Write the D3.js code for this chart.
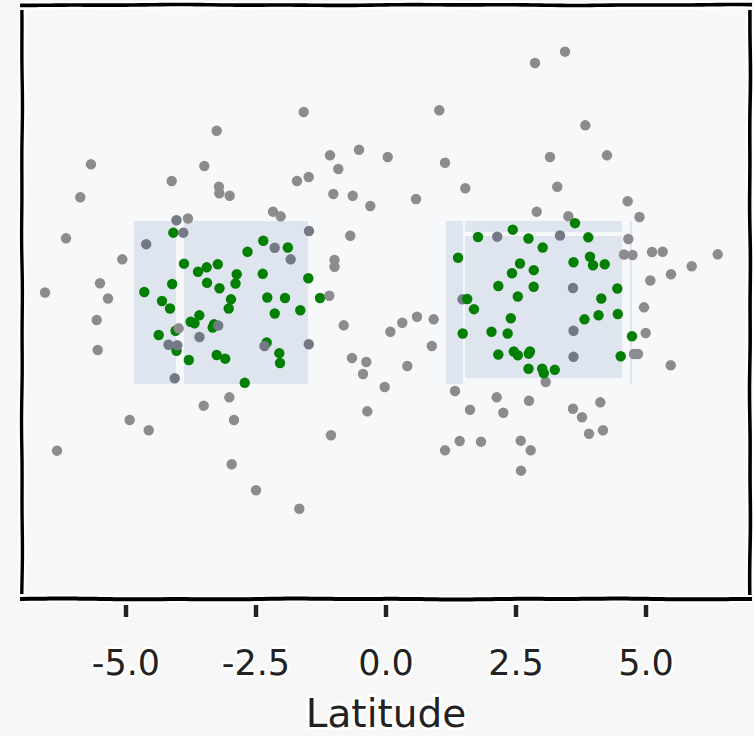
<!DOCTYPE html>
<html><head><meta charset="utf-8">
<script src="https://cdn.jsdelivr.net/npm/d3@7"></script>
<style>
html,body{margin:0;padding:0;background:#f7f7f8;}
svg{display:block;}
</style></head>
<body><div id="chart"></div>
<script>
// ---- data ----
const xTicks = [-5, -2.5, 0, 2.5, 5];
const xTickLabels = ["-5.0", "-2.5", "0.0", "2.5", "5.0"];
const xLabel = "Latitude";

const grayX = [-1.583,-3.256,-5.673,-3.494,-4.121,-3.212,-3.206,-3.006,-5.879,-1.077,-0.519,-0.917,-1.712,-1.487,-1.013,-0.640,-0.302,-2.173,-2.025,-4.029,-3.808,-3.898,-6.154,-4.612,-1.481,-0.687,-2.140,-1.833,-5.071,-0.990,-0.990,-5.5,-6.558,-5.346,-1.090,-5.563,-3.227,-3.987,-3.587,-0.813,-4.183,-4.013,-5.544,-2.337,-1.485,-0.654,-0.379,-0.442,-4.063,-3.013,-3.506,-2.923,-4.929,-4.563,-0.360,-1.058,-6.327,-2.967,-2.5,-1.667,
 3.442,2.865,1.025,3.833,0.033,1.135,3.154,4.250,0.577,1.525,3.294,4.648,4.875,2.898,3.506,2.140,3.346,4.660,4.577,4.740,5.115,5.321,6.379,5.879,5.481,5.083,3.596,1.471,4.962,0.596,0.313,0.083,0.917,0.881,3.606,4.994,3.606,4.769,4.846,5.475,0.410,3.071,-0.025,1.327,2.129,2.750,1.615,2.256,3.596,4.121,3.769,4.173,3.904,1.417,1.827,1.135,2.590,2.783,2.596];
const grayY = [3.625,3.265,2.619,2.587,2.298,2.188,2.062,2.015,1.985,2.792,2.900,2.529,2.298,2.375,2.048,2.015,1.817,1.708,1.619,1.544,1.577,1.304,1.196,1.083,1.337,1.246,1.015,0.792,0.792,0.779,0.650,0.331,0.154,0.038,0.092,-0.375,-0.481,-0.535,-0.702,-0.477,-0.850,-0.862,-0.952,-0.875,-0.842,-1.106,-1.183,-1.413,-1.496,-1.862,-2.023,-2.298,-2.298,-2.496,-2.131,-2.592,-2.888,-3.150,-3.650,-4.004,
 4.785,4.567,3.658,3.369,2.760,2.650,2.760,2.792,1.952,2.158,2.188,1.908,1.606,1.708,1.621,1.227,1.250,1.183,0.885,0.875,0.933,0.938,0.888,0.658,0.504,0.385,0.240,0.023,-0.131,-0.312,-0.427,-0.600,-0.362,-0.875,-0.581,-0.625,-1.083,-1.029,-1.029,-1.246,-1.260,-1.567,-1.663,-1.740,-1.862,-1.927,-2.100,-2.158,-2.081,-1.958,-2.246,-2.496,-2.562,-2.702,-2.715,-2.881,-2.696,-2.881,-3.273];

const greenLeftX = [-4.090,-2.360,-1.888,-2.663,-3.885,-3.615,-3.448,-3.235,-2.871,-2.894,-3.442,-3.202,-2.371,-1.494,-4.112,-4.648,-4.308,-2.981,-2.283,-1.942,-1.269,-4.154,-3.025,-2.140,-1.648,-3.590,-3.756,-3.683,-3.308,-3.333,-4.048,-4.371,-4.029,-2.294,-2.052,-2.038,-3.792,-3.256,-3.092,-2.717];
const greenLeftY = [1.304,1.150,1.019,0.938,0.708,0.552,0.638,0.698,0.504,0.327,0.340,0.235,0.513,0.427,0.317,0.163,-0.010,0.023,0.058,0.048,0.048,-0.154,-0.154,-0.250,-0.187,-0.285,-0.408,-0.438,-0.458,-0.519,-0.583,-0.663,-0.967,-0.808,-1.013,-1.202,-1.144,-1.048,-1.119,-1.583];

const greenRightX = [3.635,2.437,1.769,2.740,3.890,3.013,1.385,2.577,3.923,3.981,4.206,3.606,2.423,2.842,2.160,2.840,4.448,2.535,1.562,4.140,1.692,2.400,3.817,4.087,4.458,1.475,2.029,2.340,4.731,2.160,2.458,2.535,2.744,2.769,4.513,2.740,3.004,3.035,3.246];
const greenRightY = [1.487,1.362,1.221,1.192,1.215,1.019,0.823,0.712,0.842,0.677,0.698,0.735,0.525,0.583,0.279,0.265,0.231,0.077,0.029,0.038,-0.167,-0.342,-0.362,-0.283,-0.260,-0.635,-0.600,-0.635,-0.688,-1.038,-0.981,-1.052,-1.023,-0.981,-1.073,-1.312,-1.313,-1.400,-1.333];

// shaded selection boxes (data units)
const boxX0 = [-4.846,-3.885, 1.154, 1.519, 1.519, 4.692];
const boxX1 = [-4.038,-1.500, 1.481, 4.538, 4.538, 4.731];
const boxY0 = [-1.606,-1.606,-1.606, 1.317,-1.490,-1.606];
const boxY1 = [ 1.529, 1.529, 1.529, 1.529, 1.240, 1.529];

// ---- layout ----
const W = 754, H = 736;
const L = 22, R = 750, T = 5, B = 598;
const svg = d3.select("#chart").append("svg").attr("width", W).attr("height", H);

const x = d3.scaleLinear().domain([-7, 7]).range([L, R]);
const y = d3.scaleLinear().domain([-5.625, 5.625]).range([593, 8]);

const font = "'DejaVu Sans', sans-serif";

// panel background
svg.append("rect").attr("x", L).attr("y", T).attr("width", R - L).attr("height", B - T)
  .attr("fill", "#f7f8fa");

// boxes
const boxes = boxX0.map((d, i) => ({x0: d, x1: boxX1[i], y0: boxY0[i], y1: boxY1[i]}));
svg.append("g").selectAll("rect").data(boxes).join("rect")
  .attr("x", d => x(d.x0)).attr("width", d => x(d.x1) - x(d.x0))
  .attr("y", d => y(d.y1)).attr("height", d => y(d.y0) - y(d.y1))
  .attr("fill", "#dfe5ee");

const mainBoxes = boxes.filter(b => b.x1 - b.x0 > 0.1);
const tol = 0.025;
function inBox(px, py) {
  return mainBoxes.some(b => px >= b.x0 - tol && px <= b.x1 + tol && py >= b.y0 - tol && py <= b.y1 + tol);
}

const r = 5.2;
function drawPts(xs, ys, colorFn) {
  svg.append("g").selectAll("circle").data(xs.map((d, i) => [d, ys[i]])).join("circle")
    .attr("cx", d => x(d[0])).attr("cy", d => y(d[1])).attr("r", r)
    .attr("fill", colorFn);
}
drawPts(greenLeftX, greenLeftY, () => "#038003");
drawPts(grayX, grayY, d => inBox(d[0], d[1]) ? "#737a85" : "#8c8c8e");
drawPts(greenRightX, greenRightY, () => "#038003");

// xkcd-like frame lines
function wobble(x0, y0, x1, y1, seed) {
  const n = Math.max(2, Math.round(Math.hypot(x1 - x0, y1 - y0) / 10));
  const dx = x1 - x0, dy = y1 - y0, len = Math.hypot(dx, dy);
  const nx = -dy / len, ny = dx / len;
  const pts = [];
  for (let i = 0; i <= n; i++) {
    const t = i / n;
    const o = 0.3 * Math.sin(t * 17 + seed) + 0.2 * Math.sin(t * 41 + seed * 2.1);
    pts.push([x0 + dx * t + nx * o, y0 + dy * t + ny * o]);
  }
  return d3.line().curve(d3.curveBasis)(pts);
}
const frame = [
  [20, 5, 752, 5, 1, 3.6], [22, 10, 22, 594, 2, 3.4], [750, 10, 750, 595, 3, 3.6], [20, 599, 752, 599, 4, 4]
];
const fg = svg.append("g");
frame.forEach(f => {
  fg.append("path").attr("d", wobble(f[0], f[1], f[2], f[3], f[4])).attr("fill", "none")
    .attr("stroke", "#ffffff").attr("stroke-width", 8).attr("stroke-linecap", "butt");
});
frame.forEach(f => {
  fg.append("path").attr("d", wobble(f[0], f[1], f[2], f[3], f[4])).attr("fill", "none")
    .attr("stroke", "#000").attr("stroke-width", f[5]).attr("stroke-linecap", "butt");
});

// x axis ticks and labels
const ax = svg.append("g");
ax.selectAll("line.tw").data(xTicks).join("line").attr("class", "tw")
  .attr("x1", d => x(d)).attr("x2", d => x(d)).attr("y1", 603).attr("y2", 619)
  .attr("stroke", "#fff").attr("stroke-width", 9);
ax.selectAll("line.tk").data(xTicks).join("line").attr("class", "tk")
  .attr("x1", d => x(d)).attr("x2", d => x(d)).attr("y1", 605).attr("y2", 617)
  .attr("stroke", "#222").attr("stroke-width", 4.5);
ax.selectAll("text").data(xTicks).join("text")
  .attr("x", d => x(d)).attr("y", 675)
  .attr("text-anchor", "middle")
  .attr("font-family", font).attr("font-size", 35)
  .attr("fill", "#222").attr("stroke", "#fff").attr("stroke-width", 5)
  .attr("paint-order", "stroke").attr("stroke-linejoin", "round")
  .text((d, i) => xTickLabels[i]);

svg.append("text").attr("x", x(0)).attr("y", 727).attr("text-anchor", "middle")
  .attr("font-family", font).attr("font-size", 39)
  .attr("fill", "#222").attr("stroke", "#fff").attr("stroke-width", 5)
  .attr("paint-order", "stroke").attr("stroke-linejoin", "round")
  .text(xLabel);
</script>
</body></html>
